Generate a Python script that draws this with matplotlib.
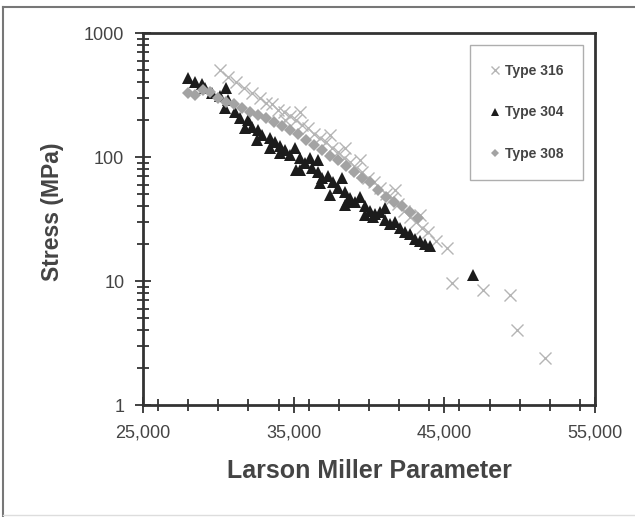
"""
Larson-Miller plot of creep rupture stress for stainless steel types 316, 304 and 308.
"""

import matplotlib
matplotlib.use('Agg')
import matplotlib.pyplot as plt
from matplotlib.lines import Line2D
from matplotlib.ticker import MultipleLocator, LogLocator, FuncFormatter, NullFormatter

plt.rcParams['font.family'] = ['Liberation Sans', 'DejaVu Sans']

# Type 316 (light grey crosses)
lmp_316 = [30110, 30640, 31170, 31700, 32230, 32770, 33160, 33560, 33960, 34360,
           34760, 35150, 35550, 35950, 36350, 36750, 37150, 37540, 37940, 38340,
           38740, 39140, 39540, 39930, 40330, 40730, 41130, 41530, 41920, 42320,
           42720, 43120, 43520, 43920, 44450, 45180, 45510, 47570, 49360, 49820,
           51680, 35420, 37410, 39400, 41720, 43380, 34420, 38410]
stress_316 = [500, 441, 403, 360, 328, 299, 272, 267, 239, 231,
              214, 199, 181, 171, 153, 142, 132, 118, 110, 98,
              91, 81, 76, 68, 63, 56, 50, 47, 42, 37,
              33, 30, 27, 25, 21, 18.5, 9.6, 8.5, 7.7, 4.0,
              2.4, 231, 150, 95, 54, 34, 199, 118]

# Type 304 (black triangles)
lmp_304 = [28000, 28450, 28900, 29100, 29580, 30110, 30500, 30640, 30440, 31100,
           31440, 31970, 32230, 32630, 32900, 33430, 33760, 34090, 34420, 34760,
           35090, 35420, 35750, 36080, 36220, 36610, 36880, 37280, 37610, 37940,
           38200, 38410, 38740, 39070, 39400, 39730, 40070, 40400, 40730, 41060,
           41390, 41720, 42060, 42390, 42720, 43050, 43380, 43720, 44050, 46900,
           35150, 37410, 38410, 39730, 36610, 33430, 31770, 41060,
           32570, 34090, 35420, 36750, 38540, 40270]
stress_304 = [430, 400, 385, 360, 328, 310, 360, 288, 248, 231,
              206, 199, 175, 165, 150, 142, 132, 123, 114, 104,
              118, 98, 90, 98, 81, 76, 68, 70, 63, 56,
              68, 52, 47, 43, 48, 40, 37, 35, 36, 31,
              29, 30, 27, 25, 24, 22, 21, 20, 19, 11.2,
              78, 49, 41, 34, 95, 118, 171, 39,
              137, 108, 79, 62, 43, 33]

# Type 308 (grey diamonds)
lmp_308 = [27990, 28450, 28980, 29450, 29980, 30510, 31040, 31570, 32100, 32630,
           33160, 33690, 34230, 34760, 35290, 35820, 36350, 36880, 37410, 37940,
           38470, 39000, 39540, 40070, 40600, 41130, 41660, 42190, 42720, 43250]
stress_308 = [328, 316, 347, 334, 299, 278, 267, 248, 231, 218,
              206, 192, 178, 165, 153, 137, 125, 114, 102, 95,
              85, 76, 68, 63, 54, 48, 43, 40, 36, 32]

x_ticks = [25000, 35000, 45000, 55000]

AXIS_COLOR = '#333333'
TEXT_COLOR = '#444444'

fig = plt.figure(figsize=(6.35, 5.17), dpi=100)
ax = fig.add_axes([143 / 635, 112 / 517, 452 / 635, 372 / 517])

ax.plot(lmp_316, stress_316, linestyle='none', marker='x', markersize=8,
        markeredgewidth=1.0, color='#b5b5b5', label='Type 316')
ax.plot(lmp_304, stress_304, linestyle='none', marker='^', markersize=9,
        color='#1c1c1c', markeredgewidth=0, label='Type 304')
ax.plot(lmp_308, stress_308, linestyle='none', marker='D', markersize=6,
        color='#a3a3a3', markeredgewidth=0, label='Type 308')

ax.set_yscale('log')
ax.set_xlim(25000, 55000)
ax.set_ylim(1, 1000)
ax.set_xticks(x_ticks)
ax.xaxis.set_minor_locator(MultipleLocator(2000))
ax.xaxis.set_major_formatter(FuncFormatter(lambda v, p: f'{int(v):,}'))
ax.yaxis.set_major_locator(LogLocator(base=10, numticks=10))
ax.yaxis.set_minor_locator(LogLocator(base=10, subs=range(2, 10), numticks=20))
ax.yaxis.set_minor_formatter(NullFormatter())
ax.yaxis.set_major_formatter(FuncFormatter(lambda v, p: f'{int(round(v))}'))

for side in ['left', 'bottom', 'top', 'right']:
    ax.spines[side].set_color(AXIS_COLOR)
    ax.spines[side].set_linewidth(2)

ax.tick_params(axis='both', which='both', direction='inout', color=AXIS_COLOR,
               width=1.3, labelcolor=TEXT_COLOR, labelsize=13)
ax.tick_params(axis='x', which='major', length=12, pad=8)
ax.tick_params(axis='x', which='minor', length=8)
ax.tick_params(axis='y', which='major', length=11, pad=8)
ax.tick_params(axis='y', which='minor', length=8)
ax.tick_params(top=False, right=False, which='both')

ax.set_xlabel('Larson Miller Parameter', fontsize=18, fontweight='bold', color=TEXT_COLOR)
ax.set_ylabel('Stress (MPa)', fontsize=16.5, fontweight='bold', color=TEXT_COLOR)
ax.xaxis.set_label_coords(0.5, -0.145)
ax.yaxis.set_label_coords(-0.175, 0.519)

leg = ax.legend(loc='upper right', bbox_to_anchor=(0.973, 0.968), borderaxespad=0,
                fancybox=False, frameon=True, edgecolor='#9a9a9a',
                prop={'weight': 'bold', 'size': 10}, labelspacing=1.95,
                borderpad=1.4, handlelength=0.8, handletextpad=0.3, markerscale=0.7)
leg.get_frame().set_linewidth(1.0)
for t in leg.get_texts():
    t.set_color(TEXT_COLOR)

# thin frame round the whole picture
fig.add_artist(Line2D([3 / 635, 1], [1 - 7 / 517, 1 - 7 / 517], color='#777777', linewidth=1.5))
fig.add_artist(Line2D([3 / 635, 3 / 635], [0, 1 - 7 / 517], color='#777777', linewidth=1.5))
fig.add_artist(Line2D([3 / 635, 1], [2 / 517, 2 / 517], color='#dddddd', linewidth=1))

fig.savefig('out.png', dpi=100, facecolor='white')
